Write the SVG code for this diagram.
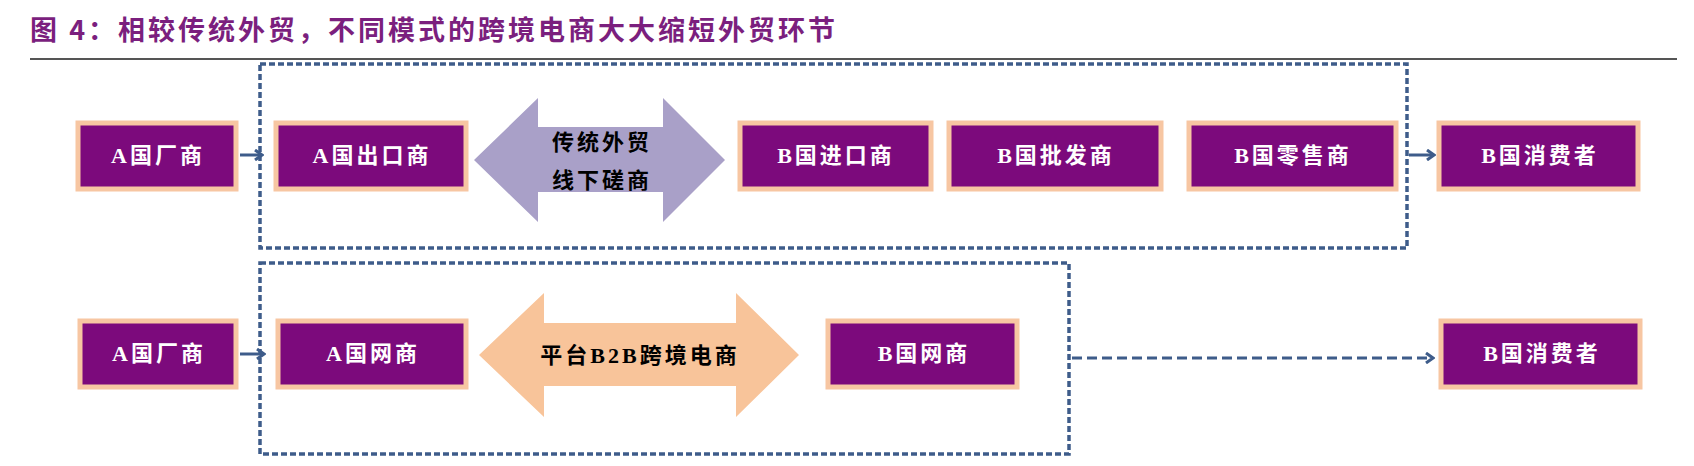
<svg xmlns="http://www.w3.org/2000/svg" width="1694" height="466" viewBox="0 0 1694 466">
<defs>
<style>
.n rect{fill:#7C0A7C;stroke:#F7C6A2;stroke-width:5}
.n text{fill:#fff;font-family:"Liberation Serif","Noto Sans CJK SC",serif;font-size:22px;font-weight:bold;text-anchor:middle;letter-spacing:3px}
.box{fill:none;stroke:#3E5C8A;stroke-width:3.5;stroke-dasharray:6 3}
.c{stroke:#3E5C8A;stroke-width:3;fill:none}
.t{font-family:"Liberation Serif","Noto Sans CJK SC",serif;font-size:22px;font-weight:bold;text-anchor:middle;letter-spacing:3px}
</style>
<marker id="ah" markerWidth="10" markerHeight="12" refX="8" refY="6" orient="auto" markerUnits="userSpaceOnUse"><path d="M1,1 L8,6 L1,11" fill="none" stroke="#3E5C8A" stroke-width="3"/></marker>
</defs>
<rect width="1694" height="466" fill="#fff"/>
<text x="30" y="40" font-family="'Noto Sans CJK SC',sans-serif" font-size="27" font-weight="bold" fill="#7B1F7E" letter-spacing="3">图 4：相较传统外贸，不同模式的跨境电商大大缩短外贸环节</text>
<line x1="30" y1="59" x2="1677" y2="59" stroke="#555" stroke-width="2"/>
<rect class="box" x="260" y="64" width="1147" height="184"/>
<rect class="box" x="260" y="263" width="809" height="191"/>
<g id="connectors">
<line class="c" x1="240" y1="155" x2="262" y2="155" marker-end="url(#ah)"/>
<line class="c" x1="1409" y1="155" x2="1434" y2="155" marker-end="url(#ah)"/>
<line class="c" x1="240" y1="354" x2="264" y2="354" marker-end="url(#ah)"/>
<line class="c" x1="1072" y1="358" x2="1433" y2="358" stroke-dasharray="10 5" marker-end="url(#ah)"/>
</g>
<g id="arrow1"><path d="M474,160 L538,98 L538,127 L663,127 L663,98 L725,160 L663,222 L663,192 L538,192 L538,222 Z" fill="#A9A0C8"/>
<text class="t" x="602" y="150">传统外贸</text>
<text class="t" x="602" y="188">线下磋商</text></g>
<g id="arrow2"><path d="M479,355 L544,293 L544,323 L736,323 L736,293 L799,355 L736,417 L736,386 L544,386 L544,417 Z" fill="#F8C49A"/>
<text class="t" x="640" y="363">平台B2B跨境电商</text></g>
<g id="n1" class="n"><rect x="78" y="123" width="158" height="66"/><text x="158" y="163">A国厂商</text></g>
<g id="n2" class="n"><rect x="276" y="123" width="190" height="66"/><text x="372" y="163">A国出口商</text></g>
<g id="n3" class="n"><rect x="740" y="123" width="191" height="66"/><text x="836" y="163">B国进口商</text></g>
<g id="n4" class="n"><rect x="949" y="123" width="212" height="66"/><text x="1056" y="163">B国批发商</text></g>
<g id="n5" class="n"><rect x="1189" y="123" width="207" height="66"/><text x="1293" y="163">B国零售商</text></g>
<g id="n6" class="n"><rect x="1439" y="123" width="199" height="66"/><text x="1540" y="163">B国消费者</text></g>
<g id="n7" class="n"><rect x="80" y="321" width="156" height="66"/><text x="159" y="361">A国厂商</text></g>
<g id="n8" class="n"><rect x="278" y="321" width="188" height="66"/><text x="373" y="361">A国网商</text></g>
<g id="n9" class="n"><rect x="828" y="321" width="189" height="66"/><text x="924" y="361">B国网商</text></g>
<g id="n10" class="n"><rect x="1441" y="321" width="199" height="66"/><text x="1542" y="361">B国消费者</text></g>
</svg>
